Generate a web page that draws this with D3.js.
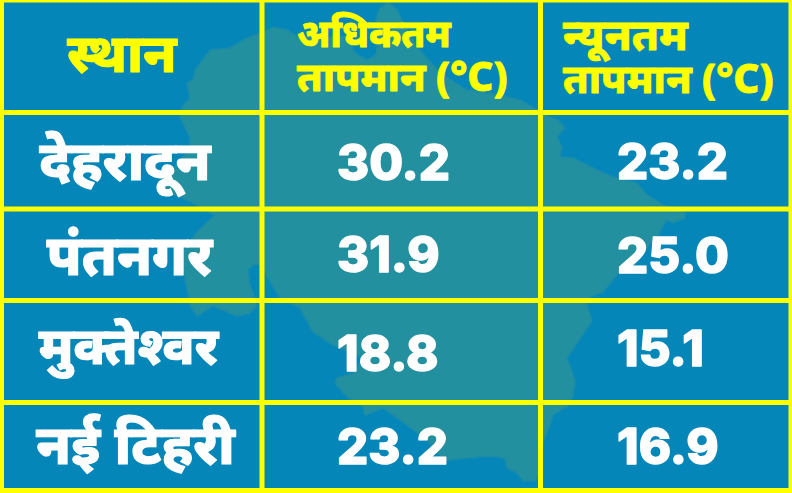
<!DOCTYPE html>
<html>
<head>
<meta charset="utf-8">
<script src="https://cdn.jsdelivr.net/npm/d3@7"></script>
<style>
html, body { margin: 0; padding: 0; background: #0487b8; }
svg { display: block; }
.hindi { font-family: "Noto Sans", sans-serif; font-weight: 800; stroke-linejoin: round; }
.num { font-family: Inter, sans-serif; font-weight: 800; stroke-linejoin: round; }
</style>
</head>
<body>
<svg id="chart"></svg>
<script>
const width = 792;
const height = 493;

const places = ["देहरादून", "पंतनगर", "मुक्तेश्वर", "नई टिहरी"];
const maxTemps = [30.2, 31.9, 18.8, 23.2];
const minTemps = [23.2, 25.0, 15.1, 16.9];
const headerPlace = "स्थान";
const headerMax = ["अधिकतम", "तापमान (°C)"];
const headerMin = ["न्यूनतम", "तापमान (°C)"];

// faded state outline behind the table
const outline = [[260,33],[267,30],[273,27],[287,30],[298,37],[330,37],[345,36],[350,43],[355,53],[367,60],[376,55],[378,40],[376,20],[380,8],[388,3],[396,8],[402,20],[412,38],[422,53],[443,75],[467,90],[500,95],[520,100],[538,110],[550,117],[558,120],[565,128],[557,137],[562,147],[560,157],[573,158],[597,170],[613,177],[637,183],[647,195],[663,205],[685,213],[685,218],[673,223],[667,220],[662,227],[658,237],[640,255],[617,275],[603,292],[590,297],[587,305],[592,321],[567,358],[575,380],[573,396],[568,406],[553,415],[548,430],[543,443],[540,470],[536,481],[523,481],[517,473],[507,468],[505,458],[490,456],[467,458],[443,461],[427,440],[400,420],[383,408],[365,415],[362,405],[347,397],[335,383],[337,378],[353,373],[363,358],[333,345],[313,332],[300,308],[280,298],[267,277],[262,265],[255,264],[248,270],[250,285],[255,298],[257,306],[250,313],[237,316],[213,306],[197,316],[190,305],[185,278],[180,255],[197,232],[215,215],[208,212],[200,207],[187,200],[163,190],[158,182],[167,177],[190,148],[190,138],[180,117],[182,107],[190,98],[187,83],[193,80],[195,70],[210,50],[230,48],[247,38]];

const colEdges = [2, 262, 540.5, 791];
const rowEdges = [1, 112.5, 209, 300.5, 402.5, 490.5];

const rowIdx = d3.range(places.length);
const placeX = d3.scaleOrdinal().domain(rowIdx).range([125, 129.5, 128.5, 135.5]);
const placeY = d3.scaleOrdinal().domain(rowIdx).range([180, 275, 364, 464]);
const placeSize = d3.scaleOrdinal().domain(rowIdx).range([55, 55.5, 52, 55]);
const maxY = d3.scaleOrdinal().domain(rowIdx).range([180, 272, 371, 464]);
const minY = d3.scaleOrdinal().domain(rowIdx).range([179, 273, 366, 464]);
const fmt = d3.format(".1f");

const svg = d3.select("#chart").attr("width", width).attr("height", height);
svg.append("rect").attr("width", width).attr("height", height).attr("fill", "#0487b8");

svg.append("path")
    .attr("d", d3.line().curve(d3.curveLinearClosed)(outline))
    .attr("fill", "#22909f")
    .attr("stroke", "#1c8ca8")
    .attr("stroke-width", 1.5);

svg.selectAll(".v").data(colEdges).enter().append("line")
    .attr("x1", d => d).attr("x2", d => d).attr("y1", 0).attr("y2", height)
    .attr("stroke", "#ffff00").attr("stroke-width", d => d < 5 ? 4 : 5);
svg.selectAll(".h").data(rowEdges).enter().append("line")
    .attr("y1", d => d).attr("y2", d => d).attr("x1", 0).attr("x2", width)
    .attr("stroke", "#ffff00").attr("stroke-width", d => d < 2 ? 3 : 5);

// place names
svg.selectAll(".place").data(places).enter().append("text")
    .attr("class", "hindi")
    .attr("x", (d, i) => placeX(i)).attr("y", (d, i) => placeY(i))
    .attr("text-anchor", "middle").attr("font-size", (d, i) => placeSize(i))
    .attr("fill", "#fff").attr("stroke", "#fff").attr("stroke-width", 1.2)
    .text(d => d);

// values
svg.selectAll(".maxv").data(maxTemps).enter().append("text")
    .attr("class", "num")
    .attr("x", 337).attr("y", (d, i) => maxY(i))
    .attr("font-size", 49).attr("fill", "#fff").attr("stroke", "#fff").attr("stroke-width", 1.4)
    .text(d => fmt(d));
svg.selectAll(".minv").data(minTemps).enter().append("text")
    .attr("class", "num")
    .attr("x", 617).attr("y", (d, i) => minY(i))
    .attr("font-size", 49).attr("fill", "#fff").attr("stroke", "#fff").attr("stroke-width", 1.4)
    .text(d => fmt(d));

// headers
svg.append("text").attr("class", "hindi")
    .attr("x", 122).attr("y", 72).attr("text-anchor", "middle")
    .attr("font-size", 53).attr("fill", "#ffff00").attr("stroke", "#ffff00").attr("stroke-width", 1)
    .text(headerPlace);
svg.selectAll(".hmax").data(headerMax).enter().append("text")
    .attr("class", "hindi")
    .attr("x", 297).attr("y", (d, i) => 47 + i * 44)
    .attr("font-size", (d, i) => i ? 40.5 : 38).attr("fill", "#ffff00").attr("stroke", "#ffff00").attr("stroke-width", 0.8)
    .text(d => d);
svg.selectAll(".hmin").data(headerMin).enter().append("text")
    .attr("class", "hindi")
    .attr("x", 563).attr("y", (d, i) => 50 + i * 43)
    .attr("font-size", (d, i) => i ? 40.5 : 43).attr("fill", "#ffff00").attr("stroke", "#ffff00").attr("stroke-width", 0.8)
    .text(d => d);
</script>
</body>
</html>
